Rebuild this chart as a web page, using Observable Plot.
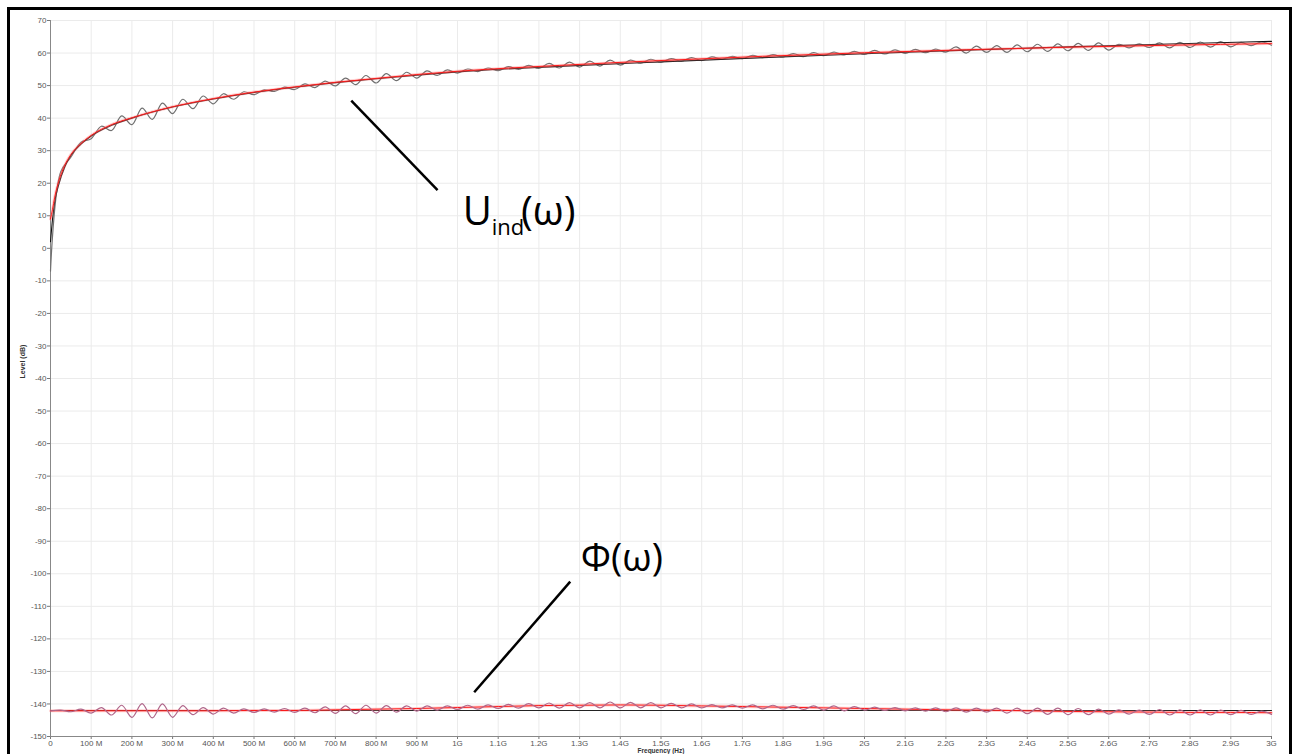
<!DOCTYPE html>
<html><head><meta charset="utf-8">
<script src="https://cdn.jsdelivr.net/npm/d3@7"></script>
<script src="https://cdn.jsdelivr.net/npm/@observablehq/plot@0.6"></script>
<style>
body{margin:0;background:#fff;}
#wrap{position:relative;width:1295px;height:754px;overflow:hidden;}
#frame{position:absolute;left:7px;top:7px;width:1285px;height:800px;border:3px solid #000;box-sizing:border-box;pointer-events:none;}
</style></head><body><div id="wrap"><div id="frame"></div></div>
<script>
// Frequency grid (MHz) for the measured (oscillating) traces
const freq = [0,25,50,75,100,125,150,175,200,225,250,275,300,325,350,375,400,425,450,475,500,525,550,575,600,625,650,675,700,725,750,775,800,825,850,875,900,925,950,975,1000,1025,1050,1075,1100,1125,1150,1175,1200,1225,1250,1275,1300,1325,1350,1375,1400,1425,1450,1475,1500,1525,1550,1575,1600,1625,1650,1675,1700,1725,1750,1775,1800,1825,1850,1875,1900,1925,1950,1975,2000,2025,2050,2075,2100,2125,2150,2175,2200,2225,2250,2275,2300,2325,2350,2375,2400,2425,2450,2475,2500,2525,2550,2575,2600,2625,2650,2675,2700,2725,2750,2775,2800,2825,2850,2875,2900,2925,2950,2975,3000];

// U_ind measured (grey, oscillating), dB
const uMeas = [-7,23.5,28.0,32.6,33.7,37.5,36.2,40.7,38.0,43.1,39.6,44.6,41.4,45.8,42.9,46.8,44.4,47.5,45.8,48.1,47.2,48.7,48.2,49.5,48.8,50.5,49.4,51.4,49.9,52.3,50.3,53.1,50.8,53.7,51.5,54.1,52.3,54.5,53.1,54.8,53.8,55.1,54.3,55.4,54.6,55.8,55.0,56.2,55.3,56.8,55.4,57.2,55.7,57.5,56.0,57.8,56.3,57.8,56.9,58.1,57.2,58.3,57.5,58.6,57.7,58.8,58.1,59.0,58.3,59.3,58.6,59.5,58.8,59.8,58.9,60.1,59.2,60.3,59.4,60.5,59.6,60.8,59.7,61.0,59.9,61.1,60.1,61.2,60.3,61.9,60.0,62.1,60.2,62.3,60.2,62.5,60.4,62.7,60.5,62.8,60.7,63.0,60.8,63.1,60.9,62.7,61.6,62.8,61.7,63.1,61.6,63.3,61.7,63.4,61.8,63.5,61.9,63.3,62.3,63.4,62.4];

// Phi measured (mauve, oscillating), dB
const pMeas = [-142.1,-141.9,-142.4,-141.6,-142.8,-141.1,-143.4,-140.4,-144.1,-139.9,-144.3,-140.0,-144.1,-140.5,-143.3,-141.1,-143.1,-141.3,-142.8,-141.5,-142.6,-141.5,-142.5,-141.4,-142.6,-141.3,-142.7,-140.9,-142.9,-140.6,-143.0,-140.4,-142.8,-140.5,-142.5,-140.6,-142.2,-140.6,-141.9,-140.6,-141.7,-140.4,-141.6,-140.3,-141.4,-140.1,-141.3,-139.9,-141.2,-139.7,-141.3,-139.6,-141.2,-139.6,-141.2,-139.4,-141.2,-139.5,-141.2,-139.6,-141.2,-139.8,-141.2,-140.0,-141.2,-140.2,-141.2,-140.3,-141.3,-140.3,-141.5,-140.4,-141.6,-140.5,-141.7,-140.6,-141.9,-140.6,-142.1,-140.8,-141.9,-141.0,-142.0,-141.1,-142.1,-141.2,-142.2,-141.2,-142.4,-141.2,-142.5,-141.3,-142.5,-141.3,-142.8,-141.3,-143.0,-141.3,-143.2,-141.3,-143.3,-141.4,-143.3,-141.6,-143.1,-141.8,-143.1,-141.9,-143.2,-141.7,-143.4,-141.8,-143.4,-141.8,-143.4,-141.9,-143.3,-142.0,-143.2,-142.2,-143.2];

// Smooth traces (sparse grid, MHz)
const smoothFreq = [0,5,10,20,35,50,75,100,150,200,300,400,500,600,700,800,900,1000,1250,1500,1750,2000,2250,2500,2750,3000];
const uFit = [2,9,14,19.5,25,28.5,32,34.5,37.8,40,43.4,45.9,47.9,49.5,50.9,52.1,53.2,54.2,55.9,57.3,58.6,59.8,60.9,61.9,62.8,63.6];
const uRed = [9,12,15.5,20.5,25.5,28.8,32.2,34.7,38,40.1,43.5,46,48,49.6,51,52.2,53.4,54.4,56.2,57.7,59.0,60.1,61.0,61.8,62.4,62.9];

const pRedFreq = [0,100,200,300,400,500,600,700,800,900,1000,1100,1200,1300,1400,1500,1600,1700,1800,1900,2000,2100,2200,2300,2400,2500,2600,2700,2800,2900,3000];
const pRed = [-142.1,-142.1,-142.1,-142.1,-142.1,-142.0,-142.0,-141.8,-141.6,-141.4,-141.1,-140.8,-140.5,-140.4,-140.3,-140.4,-140.6,-140.8,-141.0,-141.2,-141.4,-141.6,-141.8,-141.9,-142.1,-142.3,-142.4,-142.5,-142.6,-142.6,-142.7];
const pFitFreq = [0,3000];
const pFit = [-142.0,-142.0];

// Axes
const xTicks = [0,100,200,300,400,500,600,700,800,900,1000,1100,1200,1300,1400,1500,1600,1700,1800,1900,2000,2100,2200,2300,2400,2500,2600,2700,2800,2900,3000];
const xTickLabels = ["0","100 M","200 M","300 M","400 M","500 M","600 M","700 M","800 M","900 M","1G","1.1G","1.2G","1.3G","1.4G","1.5G","1.6G","1.7G","1.8G","1.9G","2G","2.1G","2.2G","2.3G","2.4G","2.5G","2.6G","2.7G","2.8G","2.9G","3G"];
const yTicks = [70,60,50,40,30,20,10,0,-10,-20,-30,-40,-50,-60,-70,-80,-90,-100,-110,-120,-130,-140,-150];
const yTickLabels = ["70","60","50","40","30","20","10","0","-10","-20","-30","-40","-50","-60","-70","-80","-90","-100","-110","-120","-130","-140","-150"];

// Annotations (data coordinates)
const annoLines = [{f1:739,v1:45.4,f2:951,v2:17.9},{f1:1277,v1:-102.4,f2:1041,v2:-136.4}];
const labelU = [{t:"U",f:1013,v:7.2}];
const labelInd = [{t:"ind",f:1084,v:4.0}];
const labelUw = [{t:"(ω)",f:1156,v:7.2}];
const labelPhi = [{t:"Φ(ω)",f:1303,v:-99.3}];

const xLab = new Map(xTicks.map((d,i)=>[d,xTickLabels[i]]));
const yLab = new Map(yTicks.map((d,i)=>[d,yTickLabels[i]]));

const chart = Plot.plot({
  width:1295, height:754,
  marginLeft:50, marginRight:24, marginTop:20, marginBottom:18,
  style:{fontFamily:"'Liberation Sans', Arial, sans-serif", fontSize:"8px", color:"#555", background:"transparent", overflow:"visible"},
  x:{domain:[0,3000]},
  y:{domain:[-150,70]},
  marks:[
    Plot.gridX(xTicks, {stroke:"#ebebeb", strokeOpacity:1}),
    Plot.gridY(yTicks, {stroke:"#ebebeb", strokeOpacity:1}),
    Plot.axisX(xTicks, {tickFormat:d=>xLab.get(d), tickSize:3, tickPadding:1, stroke:"#777", label:null}),
    Plot.axisY(yTicks, {tickFormat:d=>yLab.get(d), tickSize:3, tickPadding:1, stroke:"#777", label:null}),
    Plot.ruleX([0], {stroke:"#888", strokeWidth:1}),
    Plot.ruleY([-150], {stroke:"#888", strokeWidth:1}),
    Plot.text(["Frequency (Hz)"], {frameAnchor:"bottom", dy:16.5, fontWeight:"bold", fontSize:6.5, fill:"#333"}),
    Plot.text(["Level (dB)"], {frameAnchor:"left", dx:-28, rotate:-90, fontWeight:"bold", fontSize:7, fill:"#333"}),
    // Upper group
    Plot.line(freq, {x:d=>d, y:(d,i)=>uMeas[i], stroke:"#707070", strokeWidth:1.2, curve:"catmull-rom"}),
    Plot.line(smoothFreq, {x:d=>d, y:(d,i)=>uFit[i], stroke:"#111", strokeWidth:1.1, curve:"monotone-x"}),
    Plot.line(smoothFreq, {x:d=>d, y:(d,i)=>uRed[i], stroke:"#ff7a7a", strokeWidth:3, strokeOpacity:0.35, curve:"monotone-x"}),
    Plot.line(smoothFreq, {x:d=>d, y:(d,i)=>uRed[i], stroke:"#ff1a1a", strokeWidth:1, curve:"monotone-x"}),
    // Lower group
    Plot.line(pFitFreq, {x:d=>d, y:(d,i)=>pFit[i], stroke:"#222", strokeWidth:1.1}),
    Plot.line(pRedFreq, {x:d=>d, y:(d,i)=>pRed[i], stroke:"#ff7a7a", strokeWidth:3, strokeOpacity:0.35, curve:"monotone-x"}),
    Plot.line(pRedFreq, {x:d=>d, y:(d,i)=>pRed[i], stroke:"#ff1a1a", strokeWidth:1, curve:"monotone-x"}),
    Plot.line(freq, {x:d=>d, y:(d,i)=>pMeas[i], stroke:"#b0668a", strokeWidth:1.2, curve:"catmull-rom"}),
    // Annotations
    Plot.link(annoLines, {x1:"f1", y1:"v1", x2:"f2", y2:"v2", stroke:"#000", strokeWidth:2.5}),
    Plot.text(labelU, {x:"f", y:"v", text:"t", textAnchor:"start", lineAnchor:"bottom", fontSize:40, fill:"#000", fontFamily:"'Open Sans', sans-serif"}),
    Plot.text(labelInd, {x:"f", y:"v", text:"t", textAnchor:"start", lineAnchor:"bottom", fontSize:22, fill:"#000", fontFamily:"'Open Sans', sans-serif"}),
    Plot.text(labelUw, {x:"f", y:"v", text:"t", textAnchor:"start", lineAnchor:"bottom", fontSize:40, fill:"#000", fontFamily:"'Open Sans', sans-serif"}),
    Plot.text(labelPhi, {x:"f", y:"v", text:"t", textAnchor:"start", lineAnchor:"bottom", fontSize:38, fill:"#000", fontFamily:"'Open Sans', sans-serif"})
  ]
});
document.getElementById("wrap").prepend(chart);
</script>
</body></html>
